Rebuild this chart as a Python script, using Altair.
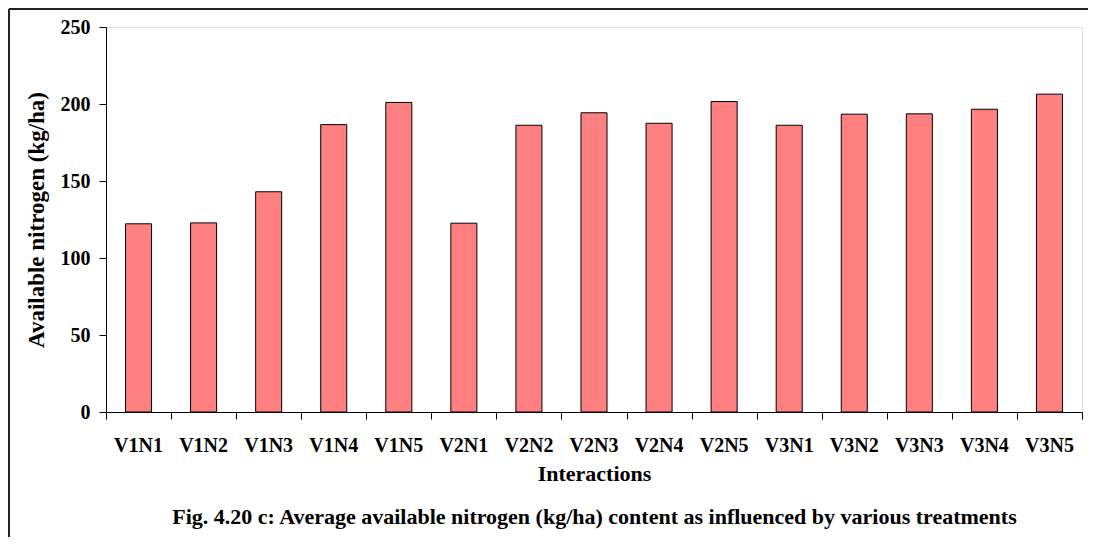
import altair as alt
import pandas as pd

categories = ["V1N1", "V1N2", "V1N3", "V1N4", "V1N5",
              "V2N1", "V2N2", "V2N3", "V2N4", "V2N5",
              "V3N1", "V3N2", "V3N3", "V3N4", "V3N5"]
values = [122.2, 122.8, 143.0, 186.6, 201.0,
          122.6, 186.2, 194.3, 187.5, 201.6,
          186.2, 193.4, 193.6, 196.6, 206.4]
y_ticks = [0, 50, 100, 150, 200, 250]
edges = list(range(len(categories) + 1))
x_title = "Interactions"
caption = "Fig. 4.20 c: Average available nitrogen (kg/ha) content as influenced by various treatments"

FONT = "Liberation Serif"
df = pd.DataFrame({"cat": categories, "val": values})
df_edges = pd.DataFrame({"edge": edges})
df_one = pd.DataFrame({"k": [0]})

bars = alt.Chart(df).mark_bar(
    color="#FF8080", stroke="#000000", strokeWidth=1
).encode(
    x=alt.X("cat:N", sort=categories,
            scale=alt.Scale(paddingInner=0.6, paddingOuter=0.3),
            axis=alt.Axis(title=[x_title, caption], labelAngle=0, ticks=False,
                          domain=True, domainColor="#000000", domainWidth=1,
                          labelFont=FONT, labelFontSize=20, labelFontWeight="bold",
                          labelColor="#000000", labelPadding=23,
                          titleFont=FONT, titleFontSize=22, titleFontWeight="bold",
                          titleColor="#000000", titlePadding=8, titleLineHeight=43,
                          orient="bottom")),
    y=alt.Y("val:Q", scale=alt.Scale(domain=[0, 250], nice=False),
            axis=alt.Axis(values=y_ticks, title="Available nitrogen (kg/ha)",
                          grid=False, tickSize=7, tickColor="#000000",
                          domainColor="#000000", labelPadding=9,
                          labelFont=FONT, labelFontSize=20, labelFontWeight="bold",
                          labelColor="#000000",
                          titleFont=FONT, titleFontSize=23, titleFontWeight="bold",
                          titleColor="#000000", titlePadding=12)),
)

edge_ticks = alt.Chart(df_edges).mark_point(opacity=0).encode(
    x=alt.X("edge:Q", scale=alt.Scale(domain=[0, len(categories)], nice=False, zero=False),
            axis=alt.Axis(values=edges, labels=False, domain=False, ticks=True,
                          tickSize=7, tickColor="#000000", grid=False, title=None,
                          orient="bottom")),
    y=alt.value(0),
)

left_border = alt.Chart(df_one).mark_rule(color="#222222", strokeWidth=2).encode(
    x=alt.value(-97), y=alt.value(-18), y2=alt.value(520)
)
top_border = alt.Chart(df_one).mark_rule(color="#222222", strokeWidth=2).encode(
    x=alt.value(-97), x2=alt.value(990), y=alt.value(-18)
)

chart = alt.layer(bars, edge_ticks, left_border, top_border).resolve_scale(
    x="independent"
).resolve_axis(x="independent").properties(
    width=976, height=385,
    autosize=alt.AutoSizeParams(type="none"),
    padding={"left": 98, "top": 19, "right": 6, "bottom": 125},
).configure_view(stroke=None).configure(background="#FFFFFF")

chart.save("out.html", embed_options={"renderer": "svg", "actions": False})
